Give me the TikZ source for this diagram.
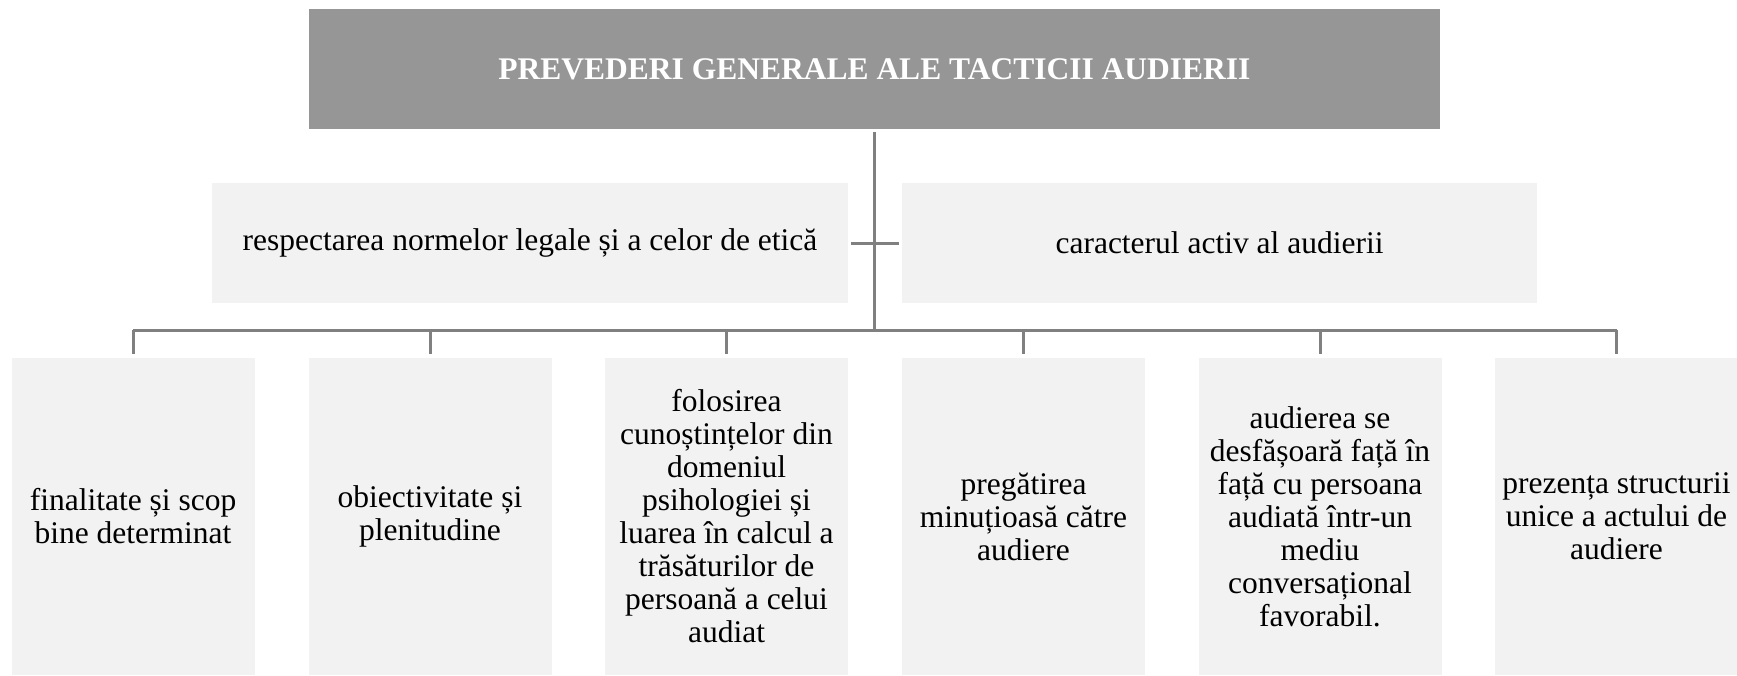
\documentclass[tikz,border=0pt]{standalone}
\usepackage{fontspec}
\setmainfont{Liberation Serif}
\definecolor{topfill}{HTML}{969696}
\definecolor{boxfill}{HTML}{F2F2F2}
\definecolor{linecol}{HTML}{808080}
\begin{document}
\begin{tikzpicture}[x=1pt,y=-1pt,
  base/.style={rectangle,inner sep=0pt,align=center,font=\fontsize{31.5}{33}\selectfont},
  topbox/.style={base,fill=topfill,text=white,minimum width=1131pt,minimum height=120pt,font=\fontsize{31.5}{33}\selectfont\bfseries},
  midbox/.style={base,fill=boxfill,minimum height=120pt},
  leafbox/.style={base,fill=boxfill,minimum width=243pt,minimum height=317pt},
  conn/.style={draw=linecol,line width=3pt}]
\useasboundingbox (0,0) rectangle (1737,675);
\node[topbox] (top) at (874.5,69) {PREVEDERI GENERALE ALE TACTICII AUDIERII};
\node[midbox,minimum width=636pt] (l2) at (530,243) {respectarea normelor legale și a celor de etică};
\node[midbox,minimum width=635pt] (r2) at (1219.5,243) {caracterul activ al audierii};
\node[leafbox] (b1) at (133,516.5) {finalitate și scop\\bine determinat};
\node[leafbox] (b2) at (430,516.5) {obiectivitate și\\plenitudine};
\node[leafbox] (b3) at (726.5,516.5) {folosirea\\cunoștințelor din\\domeniul\\psihologiei și\\luarea în calcul a\\trăsăturilor de\\persoană a celui\\audiat};
\node[leafbox] (b4) at (1023.5,516.5) {pregătirea\\minuțioasă către\\audiere};
\node[leafbox] (b5) at (1320,516.5) {audierea se\\desfășoară față în\\față cu persoana\\audiată într-un\\mediu\\conversațional\\favorabil.};
\node[leafbox] (b6) at (1616.5,516.5) {prezența structurii\\unice a actului de\\audiere};
\coordinate (bus) at (874.5,330);
\draw[conn,shorten <=3pt] (top.south) -- (bus);
\draw[conn,shorten <=3pt,shorten >=3pt] (l2.east) -- (r2.west);
\draw[conn] (b1 |- bus) -- (b6 |- bus);
\foreach \b in {b1,b2,b3,b4,b5,b6}{
  \draw[conn,shorten >=4pt] (\b |- bus) -- (\b.north);
}
\end{tikzpicture}
\end{document}
